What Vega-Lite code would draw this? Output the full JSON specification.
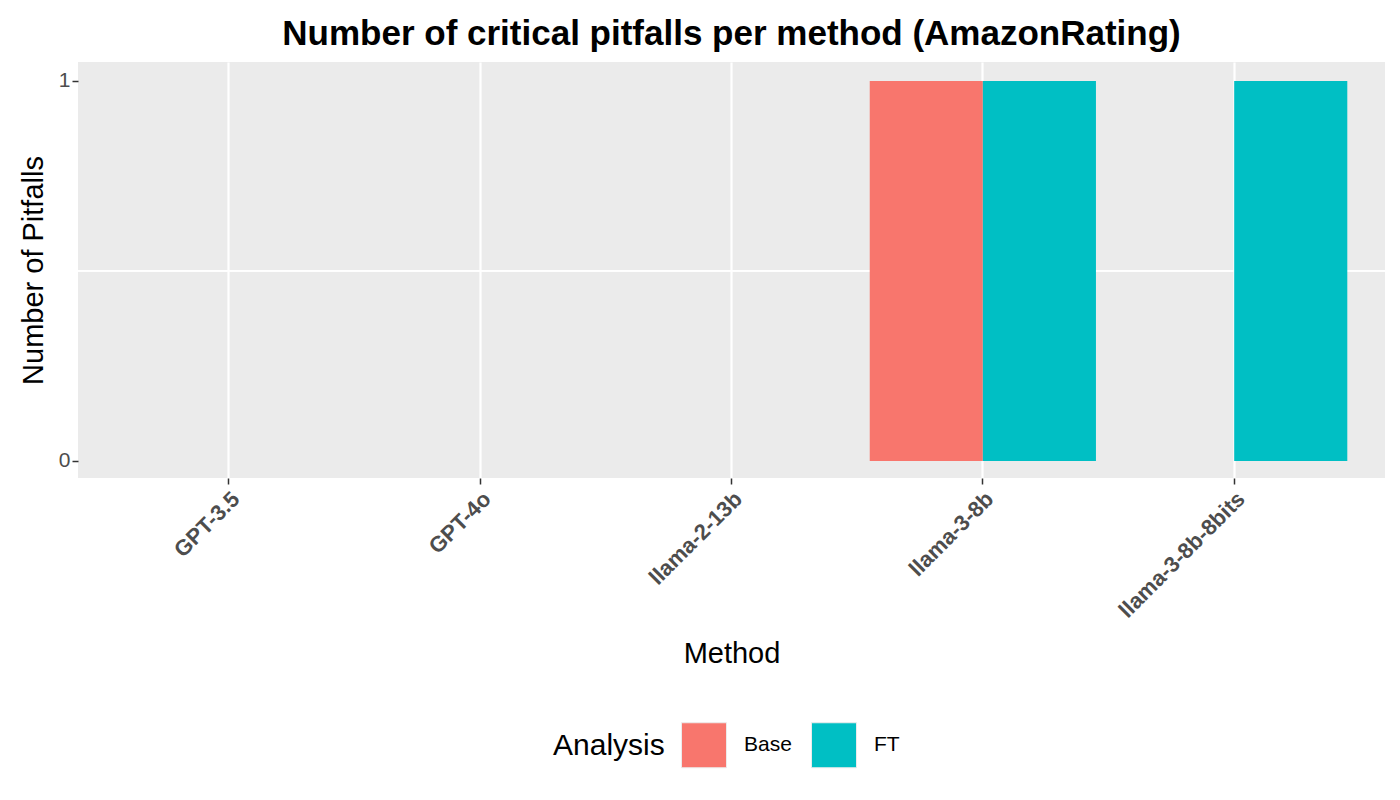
{
  "$schema": "https://vega.github.io/schema/vega-lite/v6.json",
  "autosize": {"type": "none"},
  "width": 1307,
  "height": 416,
  "padding": {"left": 78, "top": 62, "right": 15, "bottom": 322},
  "background": "white",
  "title": {"text": "Number of critical pitfalls per method (AmazonRating)", "fontSize": 35, "fontWeight": "bold", "font": "Liberation Sans", "color": "black", "offset": 10},
  "data": {"values": [
    {"Method": "GPT-3.5", "Analysis": "Base", "Pitfalls": 0},
    {"Method": "GPT-3.5", "Analysis": "FT", "Pitfalls": 0},
    {"Method": "GPT-4o", "Analysis": "Base", "Pitfalls": 0},
    {"Method": "GPT-4o", "Analysis": "FT", "Pitfalls": 0},
    {"Method": "llama-2-13b", "Analysis": "Base", "Pitfalls": 0},
    {"Method": "llama-2-13b", "Analysis": "FT", "Pitfalls": 0},
    {"Method": "llama-3-8b", "Analysis": "Base", "Pitfalls": 1},
    {"Method": "llama-3-8b", "Analysis": "FT", "Pitfalls": 1},
    {"Method": "llama-3-8b-8bits", "Analysis": "Base", "Pitfalls": 0},
    {"Method": "llama-3-8b-8bits", "Analysis": "FT", "Pitfalls": 1}
  ]},
  "layer": [
    {
      "mark": {"type": "rule", "color": "white", "strokeWidth": 1},
      "encoding": {"y": {"datum": 0.5, "type": "quantitative", "scale": {"domain": [-0.045, 1.05], "nice": false, "zero": false}}}
    },
    {
      "mark": {"type": "bar"},
      "encoding": {
        "x": {
          "field": "Method", "type": "nominal", "title": "Method",
          "scale": {"paddingInner": 0.1, "paddingOuter": 0.15},
          "axis": {"labelAngle": -45, "labelAlign": "right", "labelBaseline": "top", "labelFontWeight": "bold", "labelFontSize": 22, "labelColor": "#4d4d4d", "labelFont": "Liberation Sans", "grid": true, "gridColor": "white", "gridWidth": 2.2, "bandPosition": 0.5, "domain": false, "tickColor": "#333333", "tickSize": 6, "tickWidth": 1.5, "labelPadding": 4, "titleFontSize": 29, "titleFontWeight": "normal", "titleFont": "Liberation Sans", "titleColor": "black", "titlePadding": 18, "zindex": 0}
        },
        "xOffset": {"field": "Analysis", "type": "nominal", "scale": {"paddingInner": 0, "paddingOuter": 0}},
        "y": {
          "field": "Pitfalls", "type": "quantitative", "title": "Number of Pitfalls",
          "scale": {"domain": [-0.045, 1.05], "nice": false, "zero": false},
          "axis": {"values": [0, 1], "format": "d", "labelFontSize": 21, "labelColor": "#4d4d4d", "labelFont": "Liberation Sans", "gridColor": "white", "gridWidth": 2.2, "domain": false, "tickColor": "#333333", "tickSize": 6, "tickWidth": 1.5, "titleFontSize": 29, "titleFontWeight": "normal", "titleFont": "Liberation Sans", "titleColor": "black", "titlePadding": 10, "zindex": 0}
        },
        "color": {
          "field": "Analysis", "type": "nominal",
          "scale": {"domain": ["Base", "FT"], "range": ["#F8766D", "#00BFC4"]},
          "legend": {"orient": "none", "legendX": 475, "legendY": 660, "direction": "horizontal", "titleOrient": "left", "titleFontSize": 30, "titleFontWeight": "normal", "titleFont": "Liberation Sans", "titleColor": "black", "titleAnchor": "middle", "titleBaseline": "middle", "labelFontSize": 21, "labelFont": "Liberation Sans", "labelColor": "black", "symbolType": "square", "symbolSize": 2025, "symbolStrokeColor": "#ebebeb", "symbolStrokeWidth": 1, "symbolOpacity": 1, "labelOffset": 17, "columnPadding": 17, "titlePadding": 16}
        }
      }
    }
  ],
  "config": {
    "view": {"fill": "#ebebeb", "stroke": null},
    "font": "Liberation Sans"
  }
}
